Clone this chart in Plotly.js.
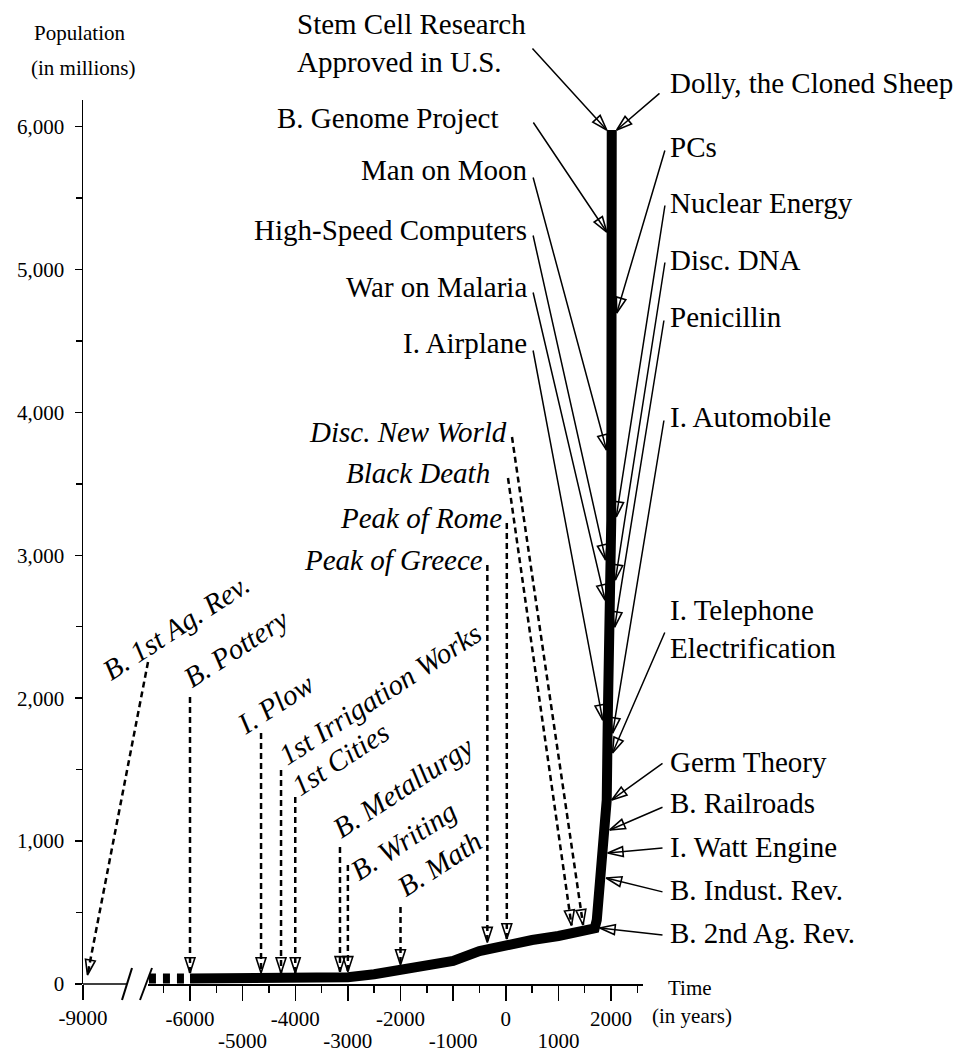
<!DOCTYPE html>
<html><head><meta charset="utf-8">
<script src="https://cdn.plot.ly/plotly-3.0.1.min.js"></script>
<style>html,body{margin:0;padding:0;background:#fff}</style>
</head><body><div id="chart" style="width:968px;height:1056px"></div>
<script>
// ================= DATA =================
// Population curve (millions)
const popYears  = [-6000, -5000, -4000, -3500, -3000, -2500, -2000, -1500, -1000, -500, 0, 500, 1000, 1500, 1690, 1730, 1786, 1843, 1919, 1938, 1976, 2005, 2014];
const popValues = [38, 40, 42, 44, 47, 68, 98, 119, 161, 231, 273, 308, 336, 378, 390, 448, 679, 917, 1288, 1847, 2547, 3247, 5976];
// Uncertain early segment (dashed)
const earlyYears  = [-6780, -6000];
const earlyValues = [38, 38];

// Events pointing at the steep stem (solid arrows)
const stemLabels = ["Stem Cell Research<br>Approved in U.S.", "Dolly, the Cloned Sheep", "B. Genome Project", "PCs",
  "Man on Moon", "Nuclear Energy", "High-Speed Computers", "Disc. DNA", "War on Malaria", "Penicillin",
  "I. Airplane", "I. Automobile", "I. Telephone<br>Electrification", "Germ Theory", "B. Railroads",
  "I. Watt Engine", "B. Indust. Rev.", "B. 2nd Ag. Rev."];
const stemYears = [2014, 2014, 2014, 2014, 2010, 2005, 1993, 1988, 1982, 1974, 1938, 1936, 1933, 1919, 1881, 1843, 1813, 1691];
const stemPops  = [5976, 5976, 5262, 4696, 3737, 3268, 2967, 2827, 2687, 2498, 1847, 1756, 1617, 1288, 1078, 917, 742, 392];

// Earlier events (dashed arrows)
const dashLabels = ["B. 1st Ag. Rev.", "B. Pottery", "I. Plow", "1st Irrigation Works", "1st Cities",
  "B. Metallurgy", "B. Writing", "B. Math", "Peak of Greece", "Peak of Rome", "Black Death", "Disc. New World"];
const dashYears = [-8900, -6000, -4650, -4270, -4000, -3150, -3000, -2000, -350, 20, 1250, 1470];
const dashPops  = [63, 77, 77, 77, 77, 85, 85, 133, 290, 315, 410, 413];

// x tick labels: even thousands on the first row, odd thousands on the second row
const xTickVals = [-6000, -5000, -4000, -3000, -2000, -1000, 0, 1000, 2000];
const xTickRow1 = xTickVals.map((v, i) => (i % 2 ? '' : String(v)));
const xTickRow2Vals = xTickVals.filter((v, i) => i % 2);
const xTickRow2Text = xTickRow2Vals.map(v => String(v));

// ================= LAYOUT GEOMETRY (pixels) =================
const PLOT = {l: 83, r: 643, t: 100, b: 984};
const X1_PX = [83, 150], X1_RANGE = [-9000, -7500];   // broken-off part of the axis
const X2_PX = [148, 643], X2_RANGE = [-6798, 2608];
const Y_RANGE = [0, 6186];
const W = PLOT.r - PLOT.l, H = PLOT.b - PLOT.t;
const k1 = (X1_PX[1] - X1_PX[0]) / (X1_RANGE[1] - X1_RANGE[0]);
const k2 = (X2_PX[1] - X2_PX[0]) / (X2_RANGE[1] - X2_RANGE[0]);
const ky = H / (Y_RANGE[1] - Y_RANGE[0]);
const x1px = v => X1_PX[0] + (v - X1_RANGE[0]) * k1;
const px2x1 = p => X1_RANGE[0] + (p - X1_PX[0]) / k1;
const x2px = v => X2_PX[0] + (v - X2_RANGE[0]) * k2;
const px2x2 = p => X2_RANGE[0] + (p - X2_PX[0]) / k2;
const ypx = v => PLOT.b - v * ky;
const px2y = p => (PLOT.b - p) / ky;
const paperX = p => (p - PLOT.l) / W;
const paperY = p => (PLOT.b - p) / H;

const STEM_GAP = 5;
const FONT = 'Liberation Serif, Times New Roman, serif';
const LABEL_SIZE = 29;

// label placement [x px, y px, anchor]
const stemSide = [-1, 1, -1, 1, -1, 1, -1, 1, -1, 1, -1, 1, 1, 1, 1, 1, 1, 1];
const stemLabelPos = [[296, 42.5, 'left'], [669, 83, 'left'], [499, 118, 'right'], [669, 147, 'left'],
  [528, 170, 'right'], [669, 203, 'left'], [528, 230, 'right'], [669, 260, 'left'], [528, 287, 'right'],
  [669, 317, 'left'], [528, 343, 'right'], [669, 417, 'left'], [669, 628.5, 'left'], [669, 762, 'left'],
  [669, 803, 'left'], [669, 847, 'left'], [669, 890, 'left'], [669, 933, 'left']];
const stemTails = [[532, 48], [660, 93], [533, 122], [665, 150], [533, 177], [665, 205], [533, 235], [665, 262],
  [533, 292], [664, 320], [533, 350], [664, 420], [665, 632], [663, 763], [663, 807], [663, 848], [663, 892], [663, 935]];

// rotated / italic labels: [x px, y px, anchor, angle]
const dashLabelPos = [[176, 627, 'center', -33], [236, 648, 'center', -33], [275, 704, 'center', -33],
  [380, 694, 'center', -33], [340, 759, 'center', -33], [403, 787, 'center', -33], [403, 841, 'center', -33],
  [439, 864, 'center', -33], [484, 560, 'right', 0], [503, 518, 'right', 0], [491, 473, 'right', 0], [508, 432, 'right', 0]];
const dashTails = [[148, 662], [null, 697], [null, 733], [null, 770], [null, 797], [null, 847], [null, 865],
  [null, 907], [null, 565], [null, 523], [508, 478], [512, 437]];

// ================= TRACES =================
const traces = [];
traces.push({x: earlyYears, y: earlyValues, xaxis: 'x2', yaxis: 'y', mode: 'lines',
  line: {color: 'black', width: 10, dash: '7px,7px'}, hoverinfo: 'skip'});
traces.push({x: popYears, y: popValues, xaxis: 'x2', yaxis: 'y', mode: 'lines',
  line: {color: 'black', width: 10}, hoverinfo: 'skip'});
// empty trace so the second-row label axis is created
traces.push({x: [], y: [], xaxis: 'x3', yaxis: 'y', mode: 'lines', hoverinfo: 'skip'});

// dashed arrows
const dl2x = [], dl2y = [], dl1x = [], dl1y = [];
const hd2x = [], hd2y = [], hd2a = [], hd1x = [], hd1y = [], hd1a = [];
function angleOf(tx, ty, hx, hy) { return Math.atan2(hx - tx, -(hy - ty)) * 180 / Math.PI; }
dashLabels.forEach((lab, i) => {
  const onLeft = i === 0;
  const toPx = onLeft ? x1px : x2px, toData = onLeft ? px2x1 : px2x2;
  const hx = toPx(dashYears[i]), hy = ypx(dashPops[i]);
  const tx = dashTails[i][0] === null ? hx : dashTails[i][0], ty = dashTails[i][1];
  const ang = angleOf(tx, ty, hx, hy);
  const tailX = dashTails[i][0] === null ? dashYears[i] : toData(tx);
  if (onLeft) { dl1x.push(tailX, dashYears[i], null); dl1y.push(px2y(ty), dashPops[i], null);
    hd1x.push(dashYears[i]); hd1y.push(dashPops[i]); hd1a.push(ang); }
  else { dl2x.push(tailX, dashYears[i], null); dl2y.push(px2y(ty), dashPops[i], null);
    hd2x.push(dashYears[i]); hd2y.push(dashPops[i]); hd2a.push(ang); }
});
const dashLine = {color: 'black', width: 2.5, dash: '6px,4px'};
traces.push({x: dl2x, y: dl2y, xaxis: 'x2', yaxis: 'y', mode: 'lines', line: dashLine, hoverinfo: 'skip'});
traces.push({x: dl1x, y: dl1y, xaxis: 'x', yaxis: 'y', mode: 'lines', line: dashLine, hoverinfo: 'skip'});

// stem arrows heads
const annotations = [];
stemLabels.forEach((lab, i) => {
  const hx = x2px(stemYears[i]) + stemSide[i] * STEM_GAP, hy = ypx(stemPops[i]);
  const tx = stemTails[i][0], ty = stemTails[i][1];
  hd2x.push(stemYears[i] + stemSide[i] * STEM_GAP / k2); hd2y.push(stemPops[i]); hd2a.push(angleOf(tx, ty, hx, hy));
  annotations.push({x: stemYears[i] + stemSide[i] * STEM_GAP / k2, y: stemPops[i], xref: 'x2', yref: 'y',
    ax: px2x2(tx), ay: px2y(ty), axref: 'x2', ayref: 'y', text: '', showarrow: true, arrowhead: 0,
    arrowwidth: 1.5, arrowcolor: 'black', standoff: 0, startstandoff: 0, borderpad: 0});
});
const headMarker = a => ({symbol: 'arrow-open', size: 16, angle: a, color: 'black', line: {color: 'black', width: 1.6}});
traces.push({x: hd2x, y: hd2y, xaxis: 'x2', yaxis: 'y', mode: 'markers', marker: headMarker(hd2a), cliponaxis: false, hoverinfo: 'skip'});
traces.push({x: hd1x, y: hd1y, xaxis: 'x', yaxis: 'y', mode: 'markers', marker: headMarker(hd1a), cliponaxis: false, hoverinfo: 'skip'});

// ================= LABELS =================
function label(text, px, py, anchor, opts) {
  return Object.assign({text: text, x: paperX(px), y: paperY(py), xref: 'paper', yref: 'paper',
    xanchor: anchor, yanchor: 'middle', showarrow: false, borderpad: 0, align: anchor === 'right' ? 'right' : 'left',
    font: {family: FONT, size: LABEL_SIZE, color: 'black'}}, opts || {});
}
stemLabels.forEach((lab, i) => {
  const p = stemLabelPos[i];
  annotations.push(label(lab, p[0], p[1], p[2]));
});
dashLabels.forEach((lab, i) => {
  const p = dashLabelPos[i];
  annotations.push(label('<i>' + lab + '</i>', p[0], p[1], p[2], {textangle: p[3]}));
});
const axisFont = {family: FONT, size: 21, color: 'black'};
annotations.push(label('Population', 80, 33, 'center', {font: axisFont}));
annotations.push(label('(in millions)', 83, 68, 'center', {font: axisFont}));
annotations.push(label('Time', 690, 988, 'center', {font: axisFont}));
annotations.push(label('(in years)', 692, 1016, 'center', {font: axisFont}));

// ================= DECORATION SHAPES (axis break) =================
const shapes = [
  {type: 'line', xref: 'paper', yref: 'paper', x0: 0, x1: paperX(127), y0: 0, y1: 0, line: {color: 'black', width: 1.5}},
  {type: 'line', xref: 'paper', yref: 'paper', x0: paperX(122), y0: paperY(1000), x1: paperX(132), y1: paperY(968), line: {color: 'black', width: 2}},
  {type: 'line', xref: 'paper', yref: 'paper', x0: paperX(140), y0: paperY(1000), x1: paperX(152), y1: paperY(968), line: {color: 'black', width: 2}}
];

const layout = {
  width: 968, height: 1056,
  margin: {l: PLOT.l, r: 968 - PLOT.r, t: PLOT.t, b: 1056 - PLOT.b, pad: 0},
  paper_bgcolor: 'white', plot_bgcolor: 'rgba(0,0,0,0)',
  showlegend: false, hovermode: false,
  font: {family: FONT, size: 21, color: 'black'},
  xaxis: {domain: [0, paperX(X1_PX[1])], range: X1_RANGE, anchor: 'y', showline: false, zeroline: false, showgrid: false,
    tickmode: 'array', tickvals: [-9000], ticktext: ['-9000'], ticks: 'outside', ticklen: 15, tickwidth: 1.5,
    tickcolor: 'black', tickfont: axisFont, ticklabelstandoff: 0},
  xaxis2: {domain: [paperX(X2_PX[0]), 1], range: X2_RANGE, anchor: 'y', showline: true, linewidth: 1.5, linecolor: 'black',
    zeroline: false, showgrid: false, tickmode: 'array', tickvals: xTickVals, ticktext: xTickRow1,
    ticks: 'outside', ticklen: 15, tickwidth: 1.5, tickcolor: 'black', tickfont: axisFont, ticklabelstandoff: 0,
    minor: {tickmode: 'linear', tick0: 0, dtick: 500, ticks: 'outside', ticklen: 7, tickwidth: 1.5, tickcolor: 'black', showgrid: false}},
  xaxis3: {overlaying: 'x2', range: X2_RANGE, anchor: 'y', side: 'bottom', showline: false, zeroline: false, showgrid: false,
    tickmode: 'array', tickvals: xTickRow2Vals, ticktext: xTickRow2Text, ticks: '', tickfont: axisFont, ticklabelstandoff: 42},
  yaxis: {domain: [0, 1], range: Y_RANGE, anchor: 'x', showline: true, linewidth: 1.5, linecolor: 'black',
    zeroline: false, showgrid: false, tickmode: 'linear', tick0: 0, dtick: 1000, tickformat: ',d',
    ticks: 'outside', ticklen: 7, tickwidth: 1.5, tickcolor: 'black', tickfont: axisFont, ticklabelstandoff: 6,
    minor: {tickmode: 'linear', tick0: 0, dtick: 500, ticks: 'outside', ticklen: 6, tickwidth: 1.5, tickcolor: 'black', showgrid: false}},
  annotations: annotations,
  shapes: shapes
};

Plotly.newPlot('chart', traces, layout, {staticPlot: true, displayModeBar: false});
</script>
</body></html>
